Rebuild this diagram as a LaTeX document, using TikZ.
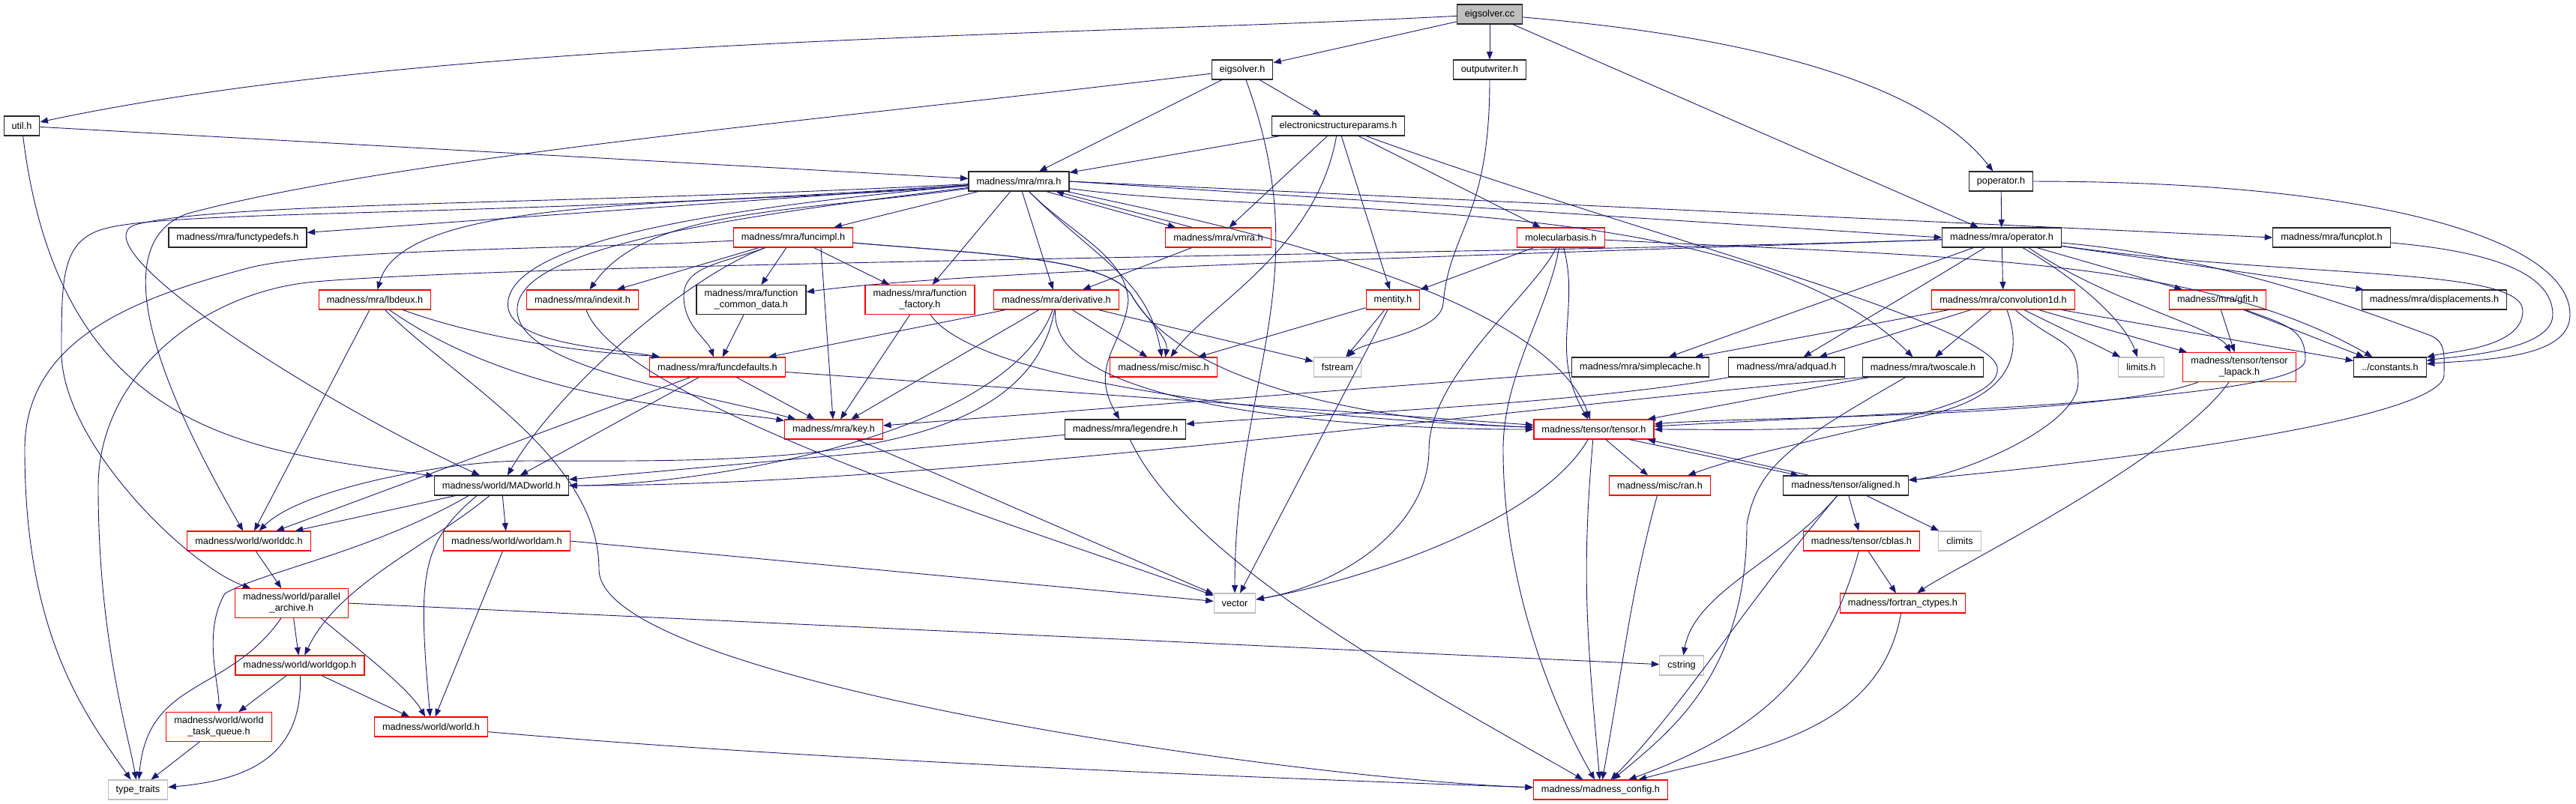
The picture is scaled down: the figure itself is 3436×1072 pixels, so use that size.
\documentclass[tikz,border=0pt]{standalone}
\usepackage{fontspec}
\setmainfont{Liberation Sans}
\usetikzlibrary{arrows.meta}
\definecolor{link}{HTML}{191970}
\definecolor{trunc}{HTML}{FF0000}
\definecolor{sysgray}{HTML}{BFBFBF}
\begin{document}
\begin{tikzpicture}[x=0.1pt,y=0.1pt,
  hdr/.style={draw=black!85,line width=0.11pt,fill=white,minimum height=2.6pt,inner xsep=1.05pt,inner ysep=0.6pt,align=center,font=\fontsize{1.27}{1.5}\selectfont},
  hdrred/.style={hdr,draw=trunc},
  sysh/.style={hdr,draw=sysgray},
  srcf/.style={hdr,fill=sysgray},
  inc/.style={draw=link,line width=0.09pt,-{Triangle[length=1.05pt,width=0.8pt]}}]
\useasboundingbox (0,0) rectangle (3436,-1072);
\node[srcf] (ecc) at (1987,-19) {eigsolver.cc};
\node[hdr] (util) at (29,-168) {util.h};
\node[hdr] (eigh) at (1657,-93) {eigsolver.h};
\node[hdr] (outw) at (1987,-93) {outputwriter.h};
\node[hdr] (esp) at (1785,-168) {electronicstructureparams.h};
\node[hdr] (popr) at (2669,-242) {poperator.h};
\node[hdr] (mra) at (1359,-242) {madness/mra/mra.h};
\node[hdr] (ftd) at (317,-317) {madness/mra/functypedefs.h};
\node[hdrred] (fimpl) at (1058,-317) {madness/mra/funcimpl.h};
\node[hdrred] (vmra) at (1625,-317) {madness/mra/vmra.h};
\node[hdrred] (molb) at (2082,-317) {molecularbasis.h};
\node[hdr] (oper) at (2670,-317) {madness/mra/operator.h};
\node[hdr] (fplot) at (3110,-317) {madness/mra/funcplot.h};
\node[hdrred] (lbd) at (500,-400) {madness/mra/lbdeux.h};
\node[hdrred] (idx) at (777,-400) {madness/mra/indexit.h};
\node[hdr] (fcd) at (1002,-400) {madness/mra/function\\\_common\_data.h};
\node[hdrred] (ffac) at (1227,-400) {madness/mra/function\\\_factory.h};
\node[hdrred] (deriv) at (1409,-400) {madness/mra/derivative.h};
\node[hdrred] (ment) at (1858,-400) {mentity.h};
\node[hdrred] (conv) at (2672,-400) {madness/mra/convolution1d.h};
\node[hdrred] (gfit) at (2958,-400) {madness/mra/gfit.h};
\node[hdr] (disp) at (3247,-400) {madness/mra/displacements.h};
\node[hdrred] (fdef) at (957,-490) {madness/mra/funcdefaults.h};
\node[hdrred] (misc) at (1552,-490) {madness/misc/misc.h};
\node[sysh] (fstr) at (1784,-490) {fstream};
\node[hdr] (scache) at (2188,-490) {madness/mra/simplecache.h};
\node[hdr] (adq) at (2383,-490) {madness/mra/adquad.h};
\node[hdr] (twos) at (2565,-490) {madness/mra/twoscale.h};
\node[sysh] (lims) at (2856,-490) {limits.h};
\node[hdrred] (tlap) at (2987,-490) {madness/tensor/tensor\\\_lapack.h};
\node[hdr] (consts) at (3188,-490) {../constants.h};
\node[hdrred] (key) at (1112,-573) {madness/mra/key.h};
\node[hdr] (leg) at (1501,-573) {madness/mra/legendre.h};
\node[hdrred] (tens) at (2126,-573) {madness/tensor/tensor.h};
\node[hdr] (madw) at (669,-648) {madness/world/MADworld.h};
\node[hdrred] (ran) at (2214,-648) {madness/misc/ran.h};
\node[hdr] (alig) at (2462,-648) {madness/tensor/aligned.h};
\node[hdrred] (wdc) at (332,-722) {madness/world/worlddc.h};
\node[hdrred] (wam) at (676,-722) {madness/world/worldam.h};
\node[hdrred] (cblas) at (2483,-722) {madness/tensor/cblas.h};
\node[sysh] (clim) at (2614,-722) {climits};
\node[hdrred] (parch) at (389,-805) {madness/world/parallel\\\_archive.h};
\node[sysh] (vec) at (1647,-805) {vector};
\node[hdrred] (fct) at (2538,-805) {madness/fortran\_ctypes.h};
\node[hdrred] (wgop) at (400,-888) {madness/world/worldgop.h};
\node[sysh] (cstr) at (2243,-888) {cstring};
\node[hdrred] (wtq) at (292,-970) {madness/world/world\\\_task\_queue.h};
\node[hdrred] (world) at (575,-970) {madness/world/world.h};
\node[sysh] (tt) at (184,-1054) {type\_traits};
\node[hdrred] (mcfg) at (2135,-1054) {madness/madness\_config.h};
\draw[inc] (ecc) -- (eigh);
\draw[inc] (ecc) -- (outw);
\draw[inc] (ecc) .. controls +(183:570) and +(12:570) .. (util);
\draw[inc] (ecc) .. controls +(-5:250) and +(128:200) .. (popr);
\draw[inc] (ecc) -- (oper);
\draw[inc] (util) -- (mra);
\draw[inc] (util) .. controls +(-83:420) and +(172:330) .. (madw);
\draw[inc] (eigh) -- (esp);
\draw[inc] (eigh) -- (mra);
\draw[inc] (eigh) .. controls +(-70:300) and +(90:300) .. (vec);
\draw[inc] (eigh) .. controls +(187:500) and +(15:300) .. (250,-285) .. controls +(200:100) and +(120:300) .. (wdc);
\draw[inc] (outw) .. controls +(-90:200) and +(85:100) .. (1925,-405) .. controls +(-95:40) and +(45:50) .. (fstr);
\draw[inc] (esp) -- (mra);
\draw[inc] (esp) -- (vmra);
\draw[inc] (esp) .. controls +(-100:170) and +(55:100) .. (misc);
\draw[inc] (esp) -- (ment);
\draw[inc] (esp) -- (molb);
\draw[inc] (esp) .. controls +(-20:400) and +(100:60) .. (2664,-490) .. controls +(-80:60) and +(20:200) .. (ran);
\draw[inc] (popr) -- (oper);
\draw[inc] (popr) .. controls +(0:500) and +(90:100) .. (3428,-420) .. controls +(-90:60) and +(5:120) .. (consts);
\draw[inc] (mra) -- (ftd);
\draw[inc] (mra) -- (fimpl);
\draw[inc] ([xshift=-3.1pt]mra.south east) -- ([xshift=1.4pt]vmra.north west);
\draw[inc] ([xshift=3.6pt]vmra.north west) -- ([xshift=-1.8pt]mra.south east);
\draw[inc] (mra.east) -- (oper.west);
\draw[inc] (mra.east) -- (fplot.west);
\draw[inc] (mra) .. controls +(185:400) and +(75:150) .. (lbd);
\draw[inc] (mra) .. controls +(188:300) and +(55:150) .. (idx);
\draw[inc] (mra) -- (ffac);
\draw[inc] (mra) -- (deriv);
\draw[inc] (mra) .. controls +(185:400) and +(80:80) .. (678,-400) .. controls +(-100:60) and +(170:150) .. (fdef);
\draw[inc] (mra) .. controls +(187:400) and +(85:80) .. (690,-410) .. controls +(-95:80) and +(165:200) .. (key);
\draw[inc] (mra) .. controls +(-45:150) and +(100:120) .. (misc);
\draw[inc] (mra) .. controls +(-45:100) and +(95:60) .. (1505,-400) .. controls +(-95:60) and +(120:100) .. (leg);
\draw[inc] (mra) .. controls +(-12:250) and +(110:200) .. (tens);
\draw[inc] (mra) .. controls +(-8:350) and +(135:340) .. (twos);
\draw[inc] (mra) .. controls +(183:600) and +(15:120) .. (180,-300) .. controls +(200:80) and +(155:300) .. (madw);
\draw[inc] (mra) .. controls +(184:700) and +(15:100) .. (140,-305) .. controls +(195:60) and +(90:100) .. (82,-470) .. controls +(-90:120) and +(160:150) .. (parch);
\draw[inc] (vmra) -- (deriv);
\draw[inc] (fimpl) -- (idx);
\draw[inc] (fimpl) -- (fcd);
\draw[inc] (fimpl) -- (ffac);
\draw[inc] (fimpl) .. controls +(200:100) and +(90:40) .. (912,-395) .. controls +(-90:40) and +(110:40) .. (fdef);
\draw[inc] ([xshift=3.7pt]fimpl.south) -- (key);
\draw[inc] (fimpl) .. controls +(-5:250) and +(120:60) .. (1510,-395) .. controls +(-60:30) and +(80:40) .. (misc);
\draw[inc] (fimpl) .. controls +(-5:250) and +(120:60) .. (1510,-395) .. controls +(-60:150) and +(178:250) .. (tens);
\draw[inc] (fimpl) .. controls +(-160:150) and +(60:150) .. (madw);
\draw[inc] (fimpl) .. controls +(183:300) and +(15:100) .. (330,-358) .. controls +(195:150) and +(90:150) .. (33,-600) .. controls +(-90:250) and +(125:120) .. (tt);
\draw[inc] (molb) -- (ment);
\draw[inc] (molb) .. controls +(-115:80) and +(90:100) .. (1906,-600) .. controls +(-90:100) and +(10:150) .. (vec);
\draw[inc] (molb) .. controls +(-100:100) and +(90:100) .. (2005,-600) .. controls +(-90:200) and +(120:100) .. (mcfg);
\draw[inc] (molb) .. controls +(-75:100) and +(120:120) .. (tens);
\draw[inc] (molb) .. controls +(-3:500) and +(150:300) .. (consts);
\draw[inc] (oper) -- (conv);
\draw[inc] (oper) -- (gfit);
\draw[inc] (oper) -- (disp);
\draw[inc] (oper) -- (scache);
\draw[inc] (oper) -- (adq);
\draw[inc] ([xshift=-5.2pt]oper.south east) .. controls +(-30:100) and +(110:60) .. (lims);
\draw[inc] ([xshift=-4.4pt]oper.south east) .. controls +(-35:120) and +(120:60) .. (tlap);
\draw[inc] (oper) .. controls +(-8:400) and +(90:60) .. (3365,-415) .. controls +(-90:50) and +(15:80) .. (consts);
\draw[inc] (oper) .. controls +(-5:300) and +(160:80) .. (3240,-447) .. controls +(-20:25) and +(90:25) .. (3260,-500) .. controls +(-90:60) and +(5:350) .. (alig);
\draw[inc] (oper) .. controls +(182:500) and +(8:300) .. (fcd);
\draw[inc] (oper) .. controls +(182:600) and +(5:300) .. (420,-376) .. controls +(185:150) and +(90:150) .. (131,-650) .. controls +(-90:200) and +(100:80) .. (tt);
\draw[inc] (fplot) .. controls +(-5:200) and +(90:60) .. (3405,-420) .. controls +(-90:50) and +(10:80) .. (consts);
\draw[inc] (conv) -- (scache);
\draw[inc] (conv) -- (adq);
\draw[inc] (conv) -- (twos);
\draw[inc] (conv) -- (lims);
\draw[inc] (conv) -- (tlap);
\draw[inc] (conv) -- (consts);
\draw[inc] (conv) .. controls +(-70:200) and +(0:300) .. (tens);
\draw[inc] (conv) .. controls +(-40:100) and +(90:60) .. (2772,-510) .. controls +(-90:60) and +(5:150) .. (alig);
\draw[inc] (gfit) -- (tlap);
\draw[inc] (gfit) -- (consts);
\draw[inc] (gfit) .. controls +(-20:100) and +(90:40) .. (3075,-480) .. controls +(-90:50) and +(3:500) .. (tens);
\draw[inc] (tlap) .. controls +(200:200) and +(5:200) .. (tens);
\draw[inc] (tlap) .. controls +(-125:150) and +(35:80) .. (fct);
\draw[inc] (lbd) -- (wdc);
\draw[inc] (lbd) .. controls +(-20:200) and +(170:80) .. (fdef);
\draw[inc] (lbd) .. controls +(-35:250) and +(170:150) .. (key);
\draw[inc] (lbd) .. controls +(-45:150) and +(90:150) .. (799,-760) .. controls +(-90:150) and +(178:400) .. (mcfg);
\draw[inc] (idx) .. controls +(-70:150) and +(160:250) .. (vec);
\draw[inc] (fcd) -- (fdef);
\draw[inc] (ffac) -- (key);
\draw[inc] (ffac) .. controls +(-55:150) and +(178:300) .. (tens);
\draw[inc] (deriv) -- (fdef);
\draw[inc] (deriv) -- (key);
\draw[inc] (deriv) -- (misc);
\draw[inc] (deriv) -- (fstr);
\draw[inc] (deriv) .. controls +(-95:140) and +(180:350) .. (tens);
\draw[inc] (deriv) .. controls +(-110:200) and +(0:250) .. (madw);
\draw[inc] (deriv) .. controls +(-100:230) and +(0:300) .. (700,-615) .. controls +(180:100) and +(45:100) .. (wdc);
\draw[inc] (ment) -- (fstr);
\draw[inc] (ment) -- (misc);
\draw[inc] (ment) -- (vec);
\draw[inc] (fdef) -- (key);
\draw[inc] (fdef) -- (madw);
\draw[inc] (fdef) -- (wdc);
\draw[inc] (fdef) -- (tens);
\draw[inc] (scache) -- (key);
\draw[inc] (adq) .. controls +(190:300) and +(5:200) .. (leg);
\draw[inc] (twos) -- (tens);
\draw[inc] (twos.south west) .. controls +(185:500) and +(0:500) .. (madw.east);
\draw[inc] (twos) .. controls +(-150:200) and +(80:80) .. (2330,-700) .. controls +(-90:200) and +(40:120) .. (mcfg);
\draw[inc] (key) -- (vec);
\draw[inc] (leg) -- (madw);
\draw[inc] (leg) .. controls +(-65:200) and +(150:250) .. (mcfg);
\draw[inc] ([xshift=-3.3pt]tens.south east) -- ([xshift=2.1pt]alig.north west);
\draw[inc] ([xshift=3.5pt]alig.north west) -- ([xshift=-0.9pt]tens.south east);
\draw[inc] (tens) -- (ran);
\draw[inc] (tens) .. controls +(-120:150) and +(10:150) .. (vec);
\draw[inc] (tens) .. controls +(-95:200) and +(95:200) .. (mcfg);
\draw[inc] (ran) .. controls +(-105:150) and +(80:200) .. (mcfg);
\draw[inc] (alig) -- (cblas);
\draw[inc] (alig) -- (clim);
\draw[inc] (alig) .. controls +(-130:130) and +(80:100) .. (cstr);
\draw[inc] (alig) .. controls +(-130:220) and +(45:150) .. (mcfg);
\draw[inc] (cblas) -- (fct);
\draw[inc] (cblas) .. controls +(-105:200) and +(20:200) .. (mcfg);
\draw[inc] (fct) .. controls +(-100:180) and +(15:200) .. (mcfg);
\draw[inc] (madw) -- (wdc);
\draw[inc] (madw) -- (wam);
\draw[inc] (madw) .. controls +(-140:120) and +(65:120) .. (wgop);
\draw[inc] ([xshift=-3.3pt]madw.south) .. controls +(-140:100) and +(95:200) .. (world);
\draw[inc] ([xshift=-4.4pt]madw.south) .. controls +(-150:150) and +(30:60) .. (300,-792) .. controls +(-120:60) and +(90:60) .. (wtq);
\draw[inc] (wdc) -- (parch);
\draw[inc] (parch) -- (wgop);
\draw[inc] ([xshift=3.9pt]parch.south) .. controls +(-40:70) and +(120:60) .. (world);
\draw[inc] (parch) .. controls +(-125:150) and +(85:150) .. (tt);
\draw[inc] (parch.east) -- (cstr);
\draw[inc] (wgop) -- (wtq);
\draw[inc] (wgop) -- (world);
\draw[inc] (wgop) .. controls +(-88:120) and +(5:150) .. (tt);
\draw[inc] (wtq) -- (tt);
\draw[inc] (wam.east) -- (vec);
\draw[inc] (wam) -- (world);
\draw[inc] (world) .. controls +(-5:500) and +(178:500) .. (mcfg);
\end{tikzpicture}
\end{document}
